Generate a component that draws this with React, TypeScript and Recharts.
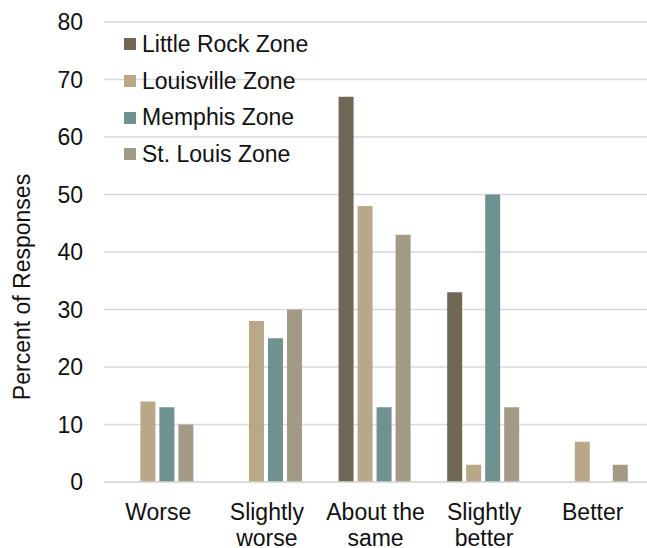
import { Bar, BarChart, CartesianGrid, Legend, XAxis, YAxis } from 'recharts'

const CATEGORIES = ['Worse', 'Slightly worse', 'About the same', 'Slightly better', 'Better']
const LITTLE_ROCK = [0, 0, 67, 33, 0]
const LOUISVILLE = [14, 28, 48, 3, 7]
const MEMPHIS = [13, 25, 13, 50, 0]
const ST_LOUIS = [10, 30, 43, 13, 3]
const Y_TICKS = [0, 10, 20, 30, 40, 50, 60, 70, 80]

const SERIES = [
    { key: 'lr', name: 'Little Rock Zone', color: '#716755' },
    { key: 'lv', name: 'Louisville Zone', color: '#b8a888' },
    { key: 'me', name: 'Memphis Zone', color: '#6f918f' },
    { key: 'sl', name: 'St. Louis Zone', color: '#a39a86' },
]

const FONT = '"Liberation Sans", Arial, sans-serif'

const data = CATEGORIES.map((name, i) => ({
    name,
    lr: LITTLE_ROCK[i],
    lv: LOUISVILLE[i],
    me: MEMPHIS[i],
    sl: ST_LOUIS[i],
}))

function splitLabel(label: string) {
    if (label.length <= 8) return [label]
    const i = label.lastIndexOf(' ')
    return [label.slice(0, i), label.slice(i + 1)]
}

function XTick({ x, y, payload }: any) {
    const lines = splitLabel(payload.value)
    return (
        <g>
            {lines.map((line, i) => (
                <text
                    key={i}
                    x={x}
                    y={y + 38 + i * 26}
                    textAnchor="middle"
                    fontSize={23}
                    fontFamily={FONT}
                    fill="#111"
                >
                    {line}
                </text>
            ))}
        </g>
    )
}

function LegendBox() {
    return (
        <div style={{ fontFamily: FONT, fontSize: 23, color: '#111', lineHeight: 1 }}>
            {SERIES.map((s) => (
                <div key={s.key} style={{ display: 'flex', alignItems: 'center', height: 36.7, whiteSpace: 'nowrap' }}>
                    <span style={{ width: 12, height: 12, background: s.color, marginRight: 6, display: 'inline-block' }} />
                    <span>{s.name}</span>
                </div>
            ))}
        </div>
    )
}

export default function App() {
    return (
        <div style={{ position: 'absolute', left: 0, top: 0, background: '#fff' }}>
            <BarChart
                width={647}
                height={548}
                data={data}
                margin={{ top: 22, right: 0, left: 0, bottom: 6 }}
                barCategoryGap="16%"
                barGap={4}
            >
                <CartesianGrid vertical={false} stroke="#d9d9d9" strokeWidth={1.5} />
                <XAxis
                    dataKey="name"
                    height={60}
                    tickLine={false}
                    tickSize={0}
                    tickMargin={0}
                    axisLine={{ stroke: '#d9d9d9', strokeWidth: 1.5 }}
                    tick={<XTick />}
                    interval={0}
                />
                <YAxis
                    width={104}
                    domain={[0, 80]}
                    ticks={Y_TICKS}
                    interval={0}
                    axisLine={false}
                    tickLine={false}
                    tickSize={0}
                    tickMargin={21}
                    tick={{ fontSize: 23, fontFamily: FONT, fill: '#111' }}
                    label={{
                        content: () => (
                            <text
                                x={22}
                                y={287}
                                transform="rotate(-90, 22, 287)"
                                textAnchor="middle"
                                dominantBaseline="central"
                                fontSize={23}
                                fontFamily={FONT}
                                fill="#111"
                            >
                                Percent of Responses
                            </text>
                        ),
                    }}
                />
                <Legend
                    verticalAlign="middle"
                    align="center"
                    layout="vertical"
                    content={<LegendBox />}
                    wrapperStyle={{ left: 124, top: 26, width: 'auto', height: 'auto' }}
                />
                {SERIES.map((s) => (
                    <Bar key={s.key} dataKey={s.key} name={s.name} fill={s.color} isAnimationActive={false} />
                ))}
            </BarChart>
        </div>
    )
}
